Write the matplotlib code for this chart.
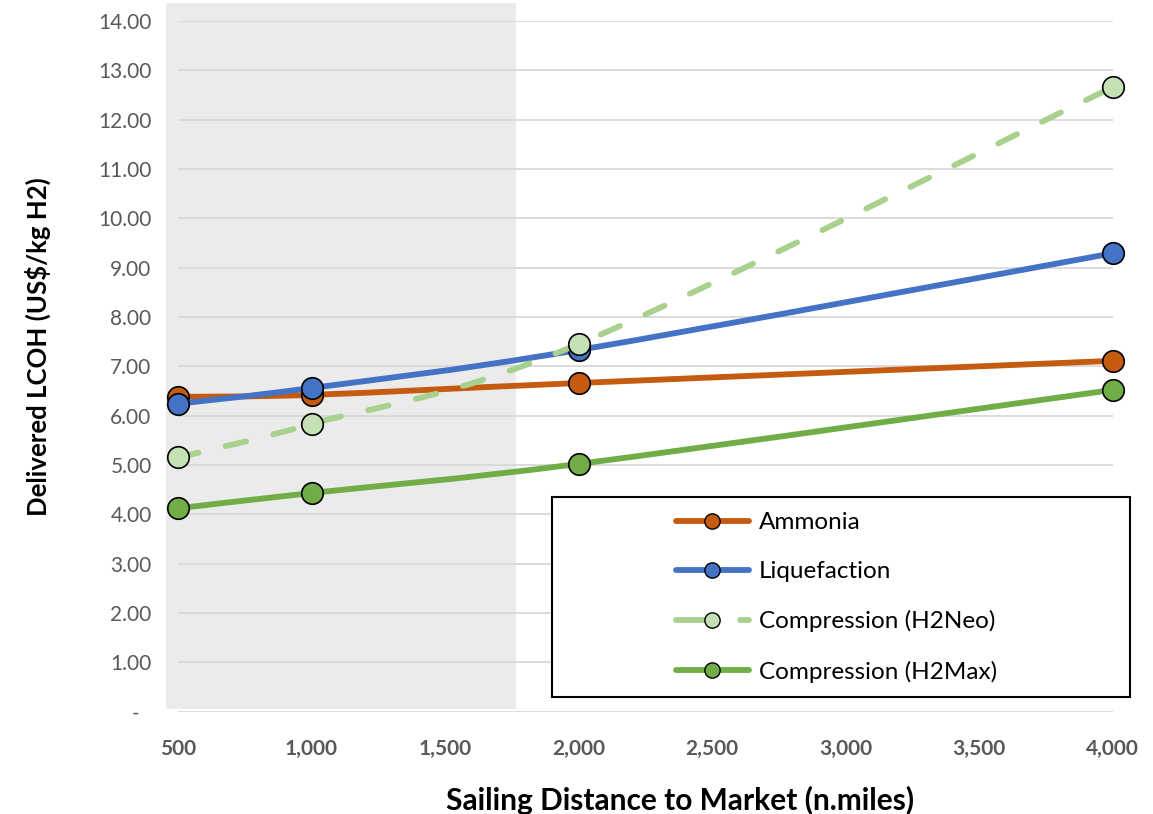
import numpy as np
import matplotlib
matplotlib.use("Agg")
import matplotlib.pyplot as plt
from matplotlib.path import Path
from matplotlib.patches import PathPatch, Rectangle
from matplotlib.lines import Line2D
from matplotlib.transforms import ScaledTranslation

plt.rcParams["font.family"] = ["Lato", "DejaVu Sans"]

# sailing distance (n.miles) and delivered LCOH (US$/kg H2)
distance = [500, 1000, 2000, 4000]
ammonia = [6.38, 6.42, 6.66, 7.11]
liquefaction = [6.24, 6.56, 7.33, 9.29]
compression_neo = [5.15, 5.83, 7.45, 12.66]
compression_max = [4.12, 4.43, 5.02, 6.52]

series_names = ["Ammonia", "Liquefaction", "Compression (H2Neo)", "Compression (H2Max)"]
x_ticks = [500, 1000, 1500, 2000, 2500, 3000, 3500, 4000]
y_ticks = list(range(0, 15))
near_shore = (455, 1764)  # shaded distance band

GREY = "#595959"


def smooth_path(xs, ys):
    # cubic bezier through the points (catmull-rom tangents)
    pts = np.column_stack([xs, ys]).astype(float)
    n = len(pts)
    verts = [pts[0]]
    codes = [Path.MOVETO]
    for i in range(n - 1):
        p0 = pts[max(i - 1, 0)]
        p1 = pts[i]
        p2 = pts[i + 1]
        p3 = pts[min(i + 2, n - 1)]
        verts += [p1 + (p2 - p0) / 6, p2 - (p3 - p1) / 6, p2]
        codes += [Path.CURVE4] * 3
    return Path(verts, codes)


W, H = 1153, 814
fig = plt.figure(figsize=(W / 100, H / 100), dpi=100)
ax = fig.add_axes([178 / W, 1 - 711.5 / H, (1112.7 - 178) / W, (711.5 - 21) / H])
ax.set_xlim(500, 4000)
ax.set_ylim(0, 14)
for s in ax.spines.values():
    s.set_visible(False)

ax.add_patch(Rectangle((near_shore[0], 0.05), near_shore[1] - near_shore[0], 14.32,
                       facecolor="#EBEBEB", edgecolor="none", zorder=0.2, clip_on=False))

for y in y_ticks:
    ax.axhline(y, color="#D9D9D9", lw=1.3, zorder=0.5)

styles = [
    dict(line="#C55A11", face="#C55A11", dash=None),
    dict(line="#4472C4", face="#4472C4", dash=None),
    dict(line="#A9D18E", face="#C5E0B4", dash=(0, (3.6, 4.8))),
    dict(line="#70AD47", face="#70AD47", dash=None),
]
LW = 4.2
handles = []
for i, (name, vals, st) in enumerate(zip(series_names,
                                          [ammonia, liquefaction, compression_neo, compression_max],
                                          styles)):
    z = 2 + i * 0.1
    patch = PathPatch(smooth_path(distance, vals), fill=False, edgecolor=st["line"], lw=LW,
                      linestyle=st["dash"] if st["dash"] else "-", capstyle="round",
                      zorder=z, clip_on=False)
    ax.add_patch(patch)
    ax.plot(distance, vals, ls="none", marker="o", ms=15.5, mfc=st["face"], mec="black",
            mew=1.2, zorder=z + 0.05, clip_on=False)
    handles.append(Line2D([], [], color=st["line"], lw=LW,
                          ls=(0, (6.5, 4.5)) if st["dash"] else "-",
                          dash_capstyle="round", solid_capstyle="round",
                          marker="o", ms=11, mfc=st["face"], mec="black", mew=1.0))

ax.set_xticks(x_ticks)
ax.set_xticklabels([f"{v:,}" for v in x_ticks], fontsize=15, fontweight="bold", color=GREY)
ax.set_yticks(y_ticks)
ax.set_yticklabels(["-"] + [f"{v:.2f}" for v in y_ticks[1:]], fontsize=15, color=GREY)
ax.tick_params(axis="both", length=0)
ax.tick_params(axis="y", pad=19)
ax.tick_params(axis="x", pad=20)
zero_lbl = ax.get_yticklabels()[0]
zero_lbl.set_transform(zero_lbl.get_transform() + ScaledTranslation(-12 / 100, 0, fig.dpi_scale_trans))

fig.text(38 / W, 1 - 347 / H, "Delivered LCOH (US$/kg H2)", rotation=90, fontsize=18.5,
         fontweight="bold", ha="center", va="center")
fig.text(680 / W, 1 - 800 / H, "Sailing Distance to Market (n.miles)", fontsize=21.5,
         fontweight="bold", ha="center", va="center")

# legend box
ax.add_patch(Rectangle((552 / W, 1 - 697 / H), 578 / W, 200 / H, transform=fig.transFigure,
                       facecolor="white", edgecolor="black", lw=1.5, zorder=4, clip_on=False))
leg = ax.legend(handles, series_names, loc="center left",
                bbox_to_anchor=(676 / W, 1 - 597.5 / H), bbox_transform=fig.transFigure,
                frameon=False, fontsize=17.5, handlelength=3.0, handletextpad=0.4,
                labelspacing=1.15, borderpad=0, borderaxespad=0)
leg.set_zorder(5)

fig.savefig("out.png", dpi=100)
